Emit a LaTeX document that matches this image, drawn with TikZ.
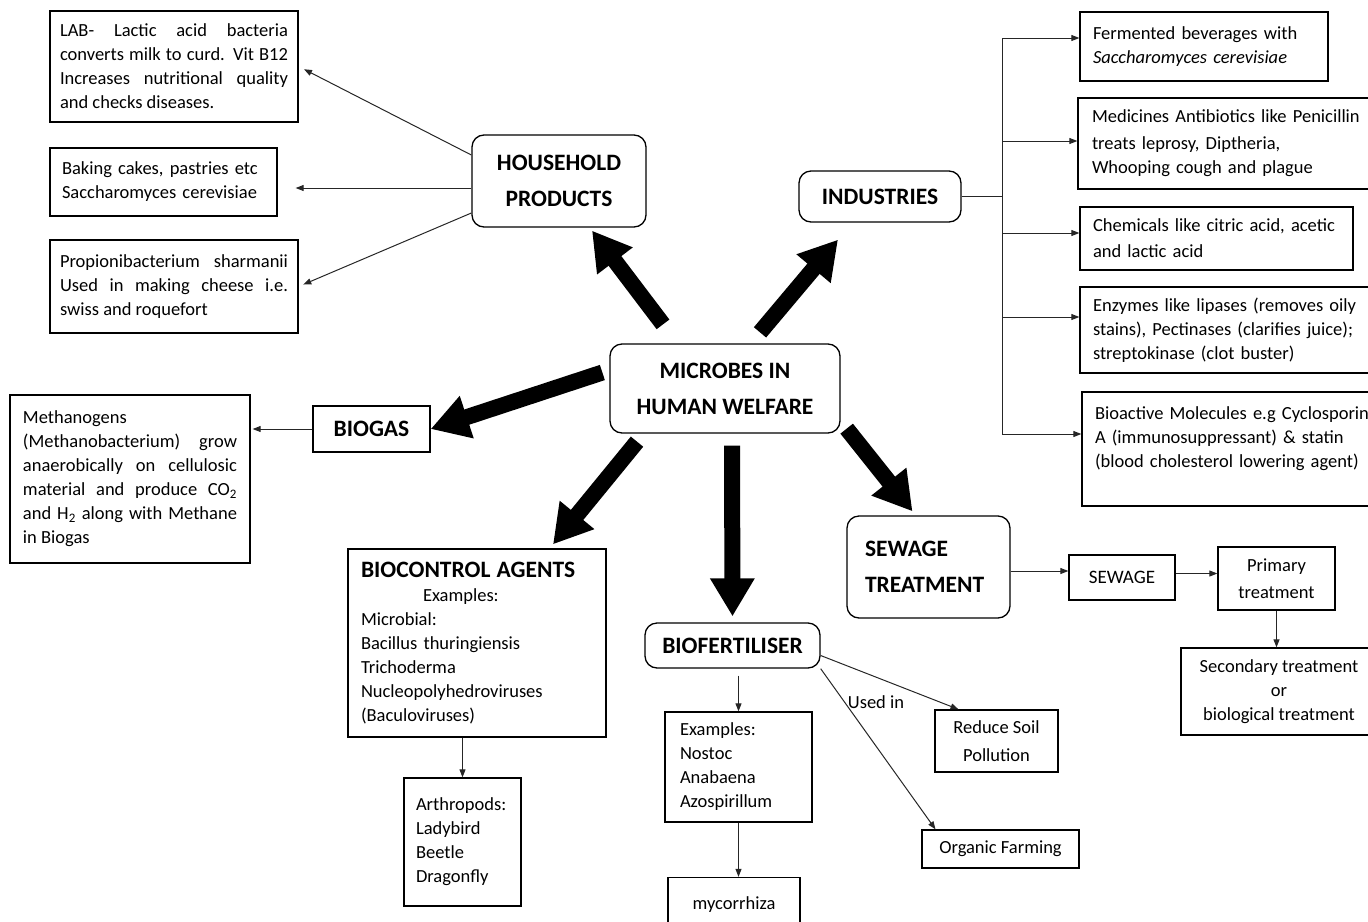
\documentclass[tikz,border=0pt]{standalone}
\usepackage{fontspec}
\setmainfont{Carlito}
\usetikzlibrary{arrows.meta}
\tikzset{
    > = {Triangle[length=8pt,width=6pt]},
    box/.style = {draw, line width=1.3pt, inner sep=0pt, font=\fontsize{18.5}{24}\selectfont},
    roundbox/.style = {box, rounded corners=12pt, font=\fontsize{23.5}{36}\selectfont\bfseries},
    link/.style = {->, line width=1pt, black!85},
    fat/.style = {-{Triangle[length=38pt,width=42pt]}, line width=16pt}
}

\begin{document}
\begin{tikzpicture}[x=1pt, y=-1pt]
    \useasboundingbox (0,0) rectangle (1368,921);

    \node[roundbox, minimum width=230pt, minimum height=89pt, align=center] (micro) at (725,388.5) {MICROBES IN\\HUMAN WELFARE};
    \node[roundbox, minimum width=174pt, minimum height=92pt, align=center] (house) at (559,181) {HOUSEHOLD\\PRODUCTS};
    \node[roundbox, minimum width=162pt, minimum height=51pt] (ind) at (880,196.5) {INDUSTRIES};
    \node[box, font=\fontsize{23.5}{36}\selectfont\bfseries, minimum width=117pt, minimum height=46pt] (biogas) at (371.5,429) {BIOGAS};
    \node[roundbox, minimum width=175pt, minimum height=45pt] (bfert) at (732.5,645.5) {BIOFERTILISER};
    \node[roundbox, minimum width=163pt, minimum height=102pt, text width=127pt, align=left] (sew) at (928.5,567) {SEWAGE\\TREATMENT};

    \node[box, minimum width=248pt, minimum height=111pt, text width=228pt, align=justify] (lab) at (174,66.5)
        {LAB- Lactic acid bacteria\linebreak converts milk to curd. Vit B12\linebreak Increases nutritional quality\linebreak and checks diseases.};
    \node[box, minimum width=227pt, minimum height=68pt, text width=203pt, align=left] (bake) at (163.5,182)
        {Baking cakes, pastries etc\\Saccharomyces cerevisiae};
    \node[box, minimum width=248pt, minimum height=93pt, text width=228pt, align=justify] (prop) at (174,286.5)
        {Propionibacterium sharmanii\linebreak Used in making cheese i.e.\linebreak swiss and roquefort};

    \node[box, minimum width=248pt, minimum height=69pt, text width=222pt, align=left] (ferm) at (1204,46.5)
        {Fermented beverages with\\\textit{Saccharomyces cerevisiae}};
    \node[box, minimum width=297pt, minimum height=91pt, text width=269pt, align=left] (med) at (1226.5,143.5)
        {Medicines Antibiotics like Penicillin\\[3pt]treats leprosy, Diptheria,\\Whooping cough and plague};
    \node[box, minimum width=273pt, minimum height=63pt, text width=247pt, align=left] (chem) at (1216.5,238.5)
        {Chemicals like citric acid, acetic\\[2pt]and lactic acid};
    \node[box, minimum width=295pt, minimum height=86pt, text width=269pt, align=left] (enz) at (1227.5,330)
        {Enzymes like lipases (removes oily\\stains), Pectinases (clarifies juice);\\streptokinase (clot buster)};
    \node[box, minimum width=293pt, minimum height=114pt, text width=267pt, align=left] (bioact) at (1228.5,449)
        {\mbox{Bioactive Molecules e.g Cyclosporin}\\A (immunosuppressant) \& statin\\(blood cholesterol lowering agent)\\\mbox{}};

    \node[box, minimum width=240pt, minimum height=168pt, text width=214pt, align=justify] (meth) at (130,479)
        {Methanogens\\(Methanobacterium) grow\linebreak anaerobically on cellulosic\linebreak material and produce CO\textsubscript{2}\linebreak and H\textsubscript{2} along with Methane\linebreak in Biogas};
    \node[box, minimum width=258pt, minimum height=188pt, text width=232pt, align=left] (bioc) at (477,643)
        {{\fontsize{23.5}{24}\selectfont\bfseries BIOCONTROL AGENTS}\\\hspace*{62pt}Examples:\\Microbial:\\Bacillus thuringiensis\\Trichoderma\\Nucleopolyhedroviruses\\(Baculoviruses)};
    \node[box, minimum width=117pt, minimum height=128pt, text width=93pt, align=left] (arth) at (462.5,842)
        {Arthropods:\\Ladybird\\Beetle\\Dragonfly};

    \node[box, minimum width=147pt, minimum height=110pt, text width=117pt, align=left] (ex) at (738.5,767)
        {Examples:\\Nostoc\\Anabaena\\Azospirillum};
    \node[box, minimum width=132pt, minimum height=55pt] (myc) at (734,905) {mycorrhiza};
    \node[box, minimum width=123pt, minimum height=62pt, align=center] (soil) at (996.5,741) {Reduce Soil\\[4pt]Pollution};
    \node[box, minimum width=157pt, minimum height=38pt] (farm) at (1000.5,849) {Organic Farming};
    \node[font=\fontsize{18.5}{24}\selectfont] (usedin) at (876,702) {Used in};

    \node[box, font=\fontsize{19}{24}\selectfont, minimum width=106pt, minimum height=45pt] (sewage) at (1122,577.5) {SEWAGE};
    \node[box, minimum width=117pt, minimum height=63pt, align=center] (prim) at (1276.5,578.5) {Primary\\[3pt]treatment};
    \node[box, minimum width=196pt, minimum height=87pt, align=center] (sec) at (1279,691.5) {Secondary treatment\\or\\biological treatment};

    \draw[fat] ([shift={(-62,-19)}]micro.north) -- ([shift={(33,3)}]house.south);
    \draw[fat] ([shift={(35,-11)}]micro.north) -- ([shift={(-42,17)}]ind.south);
    \draw[fat] ([shift={(-7,-16)}]micro.west) -- (biogas.east);
    \draw[fat] ([shift={(-88,8)}]micro.south) -- ([shift={(76,-4)}]bioc.north);
    \draw[fat] ([shift={(7,12)}]micro.south) -- ([shift={(0,-6)}]bfert.north);
    \draw[fat] ([shift={(6,-5)}]micro.south east) -- ([shift={(-16,-4)}]sew.north);

    \draw[link, shorten >=6pt] ([yshift=26pt]house.west) -- (lab.east);
    \draw[link] ([yshift=-7pt]house.west) -- ([shift={(18,6)}]bake.east);
    \draw[link, shorten >=5pt] ([yshift=-32pt]house.west) -- (prop.east);

    \coordinate (bus) at (1002,196.5);
    \coordinate (b1) at (1002,38);
    \coordinate (b2) at (1002,141);
    \coordinate (b3) at (1002,233);
    \coordinate (b4) at (1002,317);
    \coordinate (b5) at (1002,434);
    \draw[line width=1pt, black!85] (ind.east) -- (bus);
    \draw[line width=1pt, black!85] (b1) -- (b5);
    \foreach \c/\n in {b1/ferm, b2/med, b3/chem, b4/enz, b5/bioact}
        \draw[link] (\c) -- (\c -| \n.west);

    \draw[link, shorten >=2pt] (biogas.west) -- (biogas.west -| meth.east);
    \draw[link] (arth.north |- bioc.south) -- (arth.north);
    \draw[link, shorten <=7pt] (ex.north |- bfert.south) -- (ex.north);
    \draw[link] (ex.south) -- (ex.south |- myc.north);
    \draw[link] ([yshift=-10pt]bfert.east) -- ([xshift=-38pt]soil.north);
    \draw[link] (bfert.south east) -- ([xshift=-65pt]farm.north);

    \draw[link] ([yshift=-4pt]sew.east) -- ([yshift=-4pt]sew.east -| sewage.west);
    \draw[link] ([yshift=4pt]sewage.east) -- ([yshift=4pt]sewage.east -| prim.west);
    \draw[link] (prim.south) -- (prim.south |- sec.north);
\end{tikzpicture}
\end{document}
